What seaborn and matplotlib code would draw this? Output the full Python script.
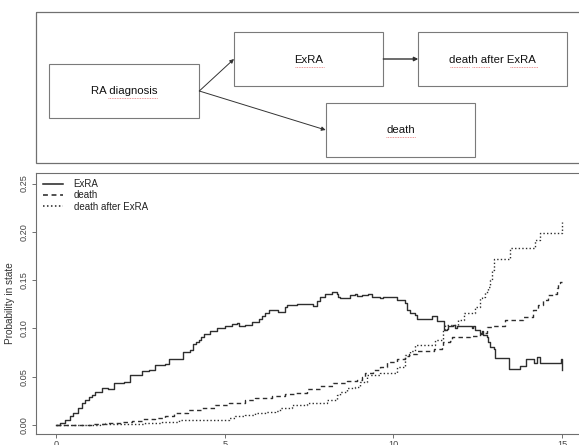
import numpy as np
import pandas as pd
import matplotlib
matplotlib.use("Agg")
import matplotlib.pyplot as plt
import seaborn as sns
from matplotlib.patches import Rectangle

# ---------------- data ----------------
states = ["ExRA", "death", "death after ExRA"]

exra_time = [0, 0.1, 0.27, 0.4, 0.51, 0.66, 0.76, 0.86, 0.96, 1.06, 1.16, 1.35, 1.55, 1.70,
             2.0, 2.19, 2.54, 2.74, 2.94, 3.23, 3.33, 3.77, 3.97, 4.07, 4.15, 4.22, 4.3, 4.37,
             4.57, 4.76, 5.01, 5.21, 5.36, 5.41, 5.6, 5.8, 6.0, 6.1, 6.2, 6.3, 6.59, 6.79, 6.84,
             7.14, 7.63, 7.73, 7.83, 7.98, 8.17, 8.32, 8.37, 8.42, 8.72, 8.86, 8.92, 9.06, 9.26,
             9.36, 9.61, 9.7, 10.1, 10.35, 10.4, 10.5, 10.64, 10.69, 11.14, 11.29, 11.5, 11.58,
             11.63, 11.78, 11.83, 11.88, 12.03, 12.32, 12.37, 12.42, 12.57, 12.62, 12.67, 12.77,
             12.82, 12.87, 12.97, 13.0, 13.42, 13.76, 13.93, 14.18, 14.27, 14.35, 14.96, 15.0]
exra_prob = [0.0, 0.002, 0.005, 0.009, 0.012, 0.018, 0.023, 0.026, 0.029, 0.031, 0.034, 0.038,
             0.037, 0.043, 0.045, 0.052, 0.056, 0.057, 0.062, 0.063, 0.068, 0.076, 0.078, 0.084,
             0.086, 0.088, 0.091, 0.094, 0.097, 0.100, 0.102, 0.105, 0.106, 0.103, 0.104, 0.107,
             0.110, 0.113, 0.116, 0.119, 0.117, 0.122, 0.124, 0.125, 0.1235, 0.128, 0.133, 0.136,
             0.138, 0.136, 0.133, 0.131, 0.135, 0.136, 0.134, 0.135, 0.1355, 0.133, 0.131, 0.1325,
             0.129, 0.126, 0.119, 0.116, 0.114, 0.110, 0.113, 0.108, 0.098, 0.099, 0.1025, 0.1035,
             0.100, 0.103, 0.102, 0.100, 0.103, 0.098, 0.095, 0.097, 0.093, 0.0915, 0.086, 0.081,
             0.079, 0.069, 0.0577, 0.061, 0.068, 0.064, 0.0707, 0.064, 0.068, 0.057]

death_time = [0, 1.1, 1.45, 1.95, 2.24, 2.54, 2.94, 3.23, 3.48, 3.92, 4.32, 4.71, 5.11, 5.6,
              5.9, 6.39, 6.79, 7.04, 7.43, 7.83, 8.22, 8.62, 8.92, 9.06, 9.16, 9.41, 9.6, 9.8,
              10.1, 10.35, 10.45, 10.69, 10.99, 11.19, 11.43, 11.48, 11.68, 11.73, 11.98, 12.27,
              12.57, 12.72, 12.77, 12.92, 13.31, 13.85, 14.15, 14.3, 14.45, 14.6, 14.74, 14.84,
              14.89, 14.94, 15.0]
death_prob = [0.0, 0.001, 0.002, 0.0035, 0.004, 0.006, 0.0076, 0.009, 0.012, 0.0155, 0.018,
              0.0207, 0.0225, 0.026, 0.028, 0.0303, 0.032, 0.033, 0.037, 0.040, 0.043, 0.0455,
              0.047, 0.050, 0.0535, 0.057, 0.060, 0.0655, 0.068, 0.0714, 0.074, 0.0766, 0.077,
              0.079, 0.081, 0.086, 0.087, 0.091, 0.0915, 0.092, 0.094, 0.0955, 0.1018, 0.1025,
              0.1087, 0.1115, 0.119, 0.124, 0.129, 0.1346, 0.136, 0.1415, 0.1467, 0.148, 0.148]

dae_time = [0, 1.3, 1.9, 2.64, 3.13, 3.63, 5.11, 5.31, 5.6, 5.9, 6.2, 6.49, 6.64, 6.99, 7.43,
            8.03, 8.32, 8.42, 8.62, 8.86, 9.01, 9.21, 9.6, 10.1, 10.35, 10.5, 10.64, 11.24,
            11.48, 11.52, 11.93, 12.08, 12.42, 12.57, 12.62, 12.72, 12.82, 12.87, 12.92, 12.97,
            13.46, 14.2, 14.35, 15.0]
dae_prob = [0.0, 0.001, 0.0015, 0.0018, 0.0028, 0.005, 0.007, 0.0093, 0.0104, 0.0128, 0.0138,
            0.0145, 0.018, 0.0207, 0.023, 0.026, 0.031, 0.0345, 0.038, 0.0396, 0.0448, 0.0518,
            0.0535, 0.0604, 0.0725, 0.077, 0.0828, 0.088, 0.098, 0.1035, 0.1087, 0.1156, 0.1225,
            0.131, 0.133, 0.138, 0.143, 0.150, 0.160, 0.1715, 0.183, 0.1915, 0.199, 0.2105]

x_ticks = [0, 5, 10, 15]
y_ticks = [0.00, 0.05, 0.10, 0.15, 0.20, 0.25]
y_label = "Probability in state"

diagram_boxes = ["RA diagnosis", "ExRA", "death after ExRA", "death"]

df = pd.concat([
    pd.DataFrame({"time": exra_time, "prob": exra_prob, "state": states[0]}),
    pd.DataFrame({"time": death_time, "prob": death_prob, "state": states[1]}),
    pd.DataFrame({"time": dae_time, "prob": dae_prob, "state": states[2]}),
], ignore_index=True)

# ---------------- figure ----------------
plt.rcParams["font.family"] = ["Liberation Sans", "DejaVu Sans"]
W, H = 579, 445
fig = plt.figure(figsize=(W / 100, H / 100), dpi=100)

# ---- diagram (pixel coordinates) ----
dg = fig.add_axes([0, 0, 1, 1])
dg.set_xlim(0, W)
dg.set_ylim(H, 0)
dg.axis("off")
box_col = "#7a7a7a"
dg.add_patch(Rectangle((36, 12.3), 620 - 36, 162.7 - 12.3, fill=False, ec="#707070", lw=0.9))
geo = {
    "RA diagnosis": (49.3, 64.0, 150.0, 53.7),
    "ExRA": (234.0, 32.3, 149.3, 53.7),
    "death after ExRA": (418.3, 32.3, 149.0, 53.7),
    "death": (325.7, 102.7, 149.6, 54.0),
}
for name in diagram_boxes:
    x0, y0, w, h = geo[name]
    dg.add_patch(Rectangle((x0, y0), w, h, fill=False, ec=box_col, lw=0.8))
    dg.text(x0 + w / 2, y0 + h / 2 + 0.5, name, ha="center", va="center",
            fontsize=8.2, color="#111111")

# red spell-check squiggles
squig = [(107.5, 157.5, 97.6), (295, 324, 66.8), (450, 470, 66.8), (472, 490, 66.8),
         (510, 537.5, 66.8), (386, 415.5, 136.9)]
for xa, xb, yy in squig:
    dg.plot([xa, xb], [yy, yy], color="#e05050", lw=0.6, ls=(0, (1, 1)), alpha=0.8)

arr = dict(arrowstyle="-|>", mutation_scale=6, lw=0.7, color="#333333",
           shrinkA=0, shrinkB=0)
dg.annotate("", xy=(234.0, 59.0), xytext=(199.3, 91.0), arrowprops=arr)
dg.annotate("", xy=(325.7, 130.0), xytext=(199.3, 91.0), arrowprops=arr)
dg.annotate("", xy=(418.3, 59.0), xytext=(383.3, 59.0), arrowprops=dict(arr, lw=1.0))

# ---- plot ----
left_px, right_px, top_px, bot_px = 36, 582.2, 172.7, 434.3
ax = fig.add_axes([left_px / W, 1 - bot_px / H, (right_px - left_px) / W, (bot_px - top_px) / H])
ax.set_facecolor("white")

sns.lineplot(data=df, x="time", y="prob", style="state", style_order=states,
             dashes={"ExRA": "", "death": (3.2, 2.4), "death after ExRA": (1.0, 1.6)},
             color="#2e2e2e", lw=1.0, drawstyle="steps-post", estimator=None,
             sort=False, ax=ax)

ax.set_xlim(-0.6, 15.6)
ax.set_ylim(-0.0096, 0.2612)
ax.set_xticks(x_ticks)
ax.set_xticklabels([str(v) for v in x_ticks])
ax.set_yticks(y_ticks)
ax.set_yticklabels([f"{v:.2f}" for v in y_ticks], rotation=90, va="center")
ax.set_xlabel("")
ax.set_ylabel(y_label, fontsize=7.2, color="#333333")
ax.yaxis.set_label_coords((15.5 - left_px) / (right_px - left_px), 0.5)

for sp in ax.spines.values():
    sp.set_color("#6f6f6f")
    sp.set_linewidth(0.8)
ax.tick_params(axis="both", length=3, width=0.7, color="#6f6f6f",
               labelsize=6.6, labelcolor="#444444")
ax.tick_params(axis="y", pad=2.0)
ax.tick_params(axis="x", pad=1.2)

leg = ax.get_legend()
handles = leg.legend_handles
labels = [t.get_text() for t in leg.get_texts()]
for hnd in handles:
    hnd.set_linewidth(1.1)
    hnd.set_color("#222222")
ax.legend(handles, labels, loc="upper left",
          bbox_to_anchor=((43 - left_px) / (right_px - left_px), 0.975),
          frameon=False, fontsize=7, borderpad=0, borderaxespad=0,
          handlelength=2.06, handletextpad=1.1, labelspacing=0.12)
for t in ax.get_legend().get_texts():
    t.set_color("#222222")

fig.savefig("out.png", dpi=100)
